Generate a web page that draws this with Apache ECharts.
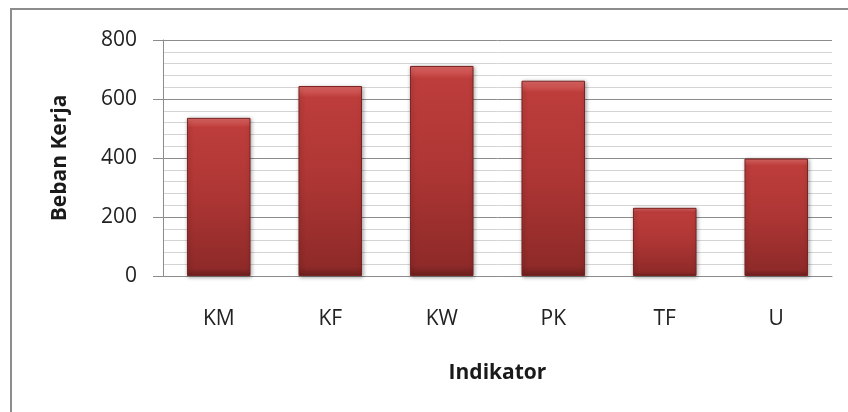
<!DOCTYPE html>
<html>
<head>
<meta charset="utf-8">
<script src="https://cdn.jsdelivr.net/npm/echarts@6/dist/echarts.min.js"></script>
<style>
  html, body { margin: 0; padding: 0; background: #fff; }
  .wrap { position: relative; width: 848px; height: 412px; overflow: hidden; }
  .frame { position: absolute; left: 10px; top: 8px; width: 900px; height: 500px; border: 2px solid #8c8c8c; box-sizing: border-box; }
  #chart { position: absolute; left: 0; top: 0; width: 848px; height: 412px; }
</style>
</head>
<body>
<div class="wrap">
  <div class="frame"></div>
  <div id="chart"></div>
</div>
<script>
const categories = ['KM', 'KF', 'KW', 'PK', 'TF', 'U']
const values = [536, 644, 712, 662, 231, 398]
const yTicks = [0, 200, 400, 600, 800]

const font = '"Open Sans", "Noto Sans", sans-serif'
const chart = echarts.init(document.getElementById('chart'))
chart.setOption({
  animation: false,
  grid: { left: 163, right: 16, top: 40, bottom: 136 },
  xAxis: {
    type: 'category',
    data: categories,
    name: 'Indikator',
    nameLocation: 'middle',
    nameGap: 87,
    nameTextStyle: { fontFamily: font, fontSize: 21, fontWeight: 'bold', color: '#1a1a1a' },
    axisLine: { lineStyle: { color: '#8c8c8c', width: 1 } },
    axisTick: { show: false },
    axisLabel: { fontFamily: font, fontSize: 21, color: '#222', margin: 33 }
  },
  yAxis: {
    type: 'value',
    min: yTicks[0],
    max: yTicks[yTicks.length - 1],
    interval: 200,
    name: 'Beban Kerja',
    nameLocation: 'middle',
    nameGap: 92,
    nameTextStyle: { fontFamily: font, fontSize: 21, fontWeight: 'bold', color: '#1a1a1a' },
    axisLine: { show: true, lineStyle: { color: '#8c8c8c', width: 1 } },
    axisTick: { show: true, length: 10, lineStyle: { color: '#8c8c8c' } },
    axisLabel: { fontFamily: font, fontSize: 21, color: '#222', margin: 26 },
    splitLine: { lineStyle: { color: '#8c8c8c', width: 1 } },
    minorTick: { show: false, splitNumber: 5 },
    minorSplitLine: { show: true, lineStyle: { color: '#d4d4d4', width: 1 } }
  },
  series: [{
    type: 'bar',
    data: values,
    barWidth: '57%',
    itemStyle: {
      color: new echarts.graphic.LinearGradient(0, 0, 0, 1, [
        { offset: 0, color: '#e06a68' },
        { offset: 0.06, color: '#bd3d3b' },
        { offset: 0.5, color: '#ad3634' },
        { offset: 0.95, color: '#8e2a29' },
        { offset: 1, color: '#6e1f1e' }
      ]),
      borderColor: '#7a2422',
      borderWidth: 1,
      shadowColor: 'rgba(0,0,0,0.35)',
      shadowBlur: 4,
      shadowOffsetX: 1,
      shadowOffsetY: 1
    }
  }]
})
</script>
</body>
</html>
